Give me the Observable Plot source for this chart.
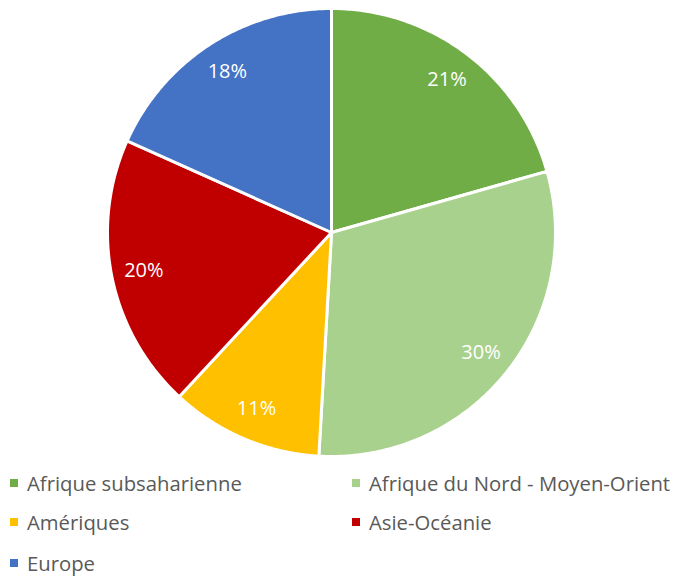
<!DOCTYPE html>
<html>
<head>
<meta charset="utf-8">
<script src="https://cdn.jsdelivr.net/npm/d3@7"></script>
<script src="https://cdn.jsdelivr.net/npm/@observablehq/plot@0.6"></script>
<style>
  body { margin: 0; background: #fff; font-family: "Open Sans", "Noto Sans", sans-serif; }
  #wrap { position: relative; width: 684px; height: 579px; }
  #legend { position: absolute; left: 0; top: 465px; width: 684px; }
  .item { position: absolute; display: flex; align-items: center; font-size: 20.3px; color: #595959; white-space: nowrap; }
  .sw { width: 8px; height: 8px; margin-right: 9px; }
</style>
</head>
<body>
<div id="wrap"><div id="chart"></div><div id="legend"></div></div>
<script>
const categories = ["Afrique subsaharienne", "Afrique du Nord - Moyen-Orient", "Amériques", "Asie-Océanie", "Europe"];
const values = [20.6, 30.3, 11.0, 19.8, 18.3];
const labelsText = ["21%", "30%", "11%", "20%", "18%"];
const colors = ["#70AD47", "#A9D18E", "#FFC000", "#C00000", "#4472C4"];

const data = categories.map((c, i) => ({category: c, value: values[i], label: labelsText[i]}));
const pie = d3.pie().value(d => d.value).sort(null)(data);

const poly = [];
pie.forEach(p => {
  const n = 120;
  poly.push({category: p.data.category, x: 0, y: 0});
  for (let k = 0; k <= n; k++) {
    const a = p.startAngle + (p.endAngle - p.startAngle) * k / n;
    poly.push({category: p.data.category, x: Math.sin(a), y: Math.cos(a)});
  }
  poly.push({category: p.data.category, x: 0, y: 0});
});
const labels = pie.map(p => {
  const a = (p.startAngle + p.endAngle) / 2;
  return {category: p.data.category, x: 0.855 * Math.sin(a), y: 0.855 * Math.cos(a), text: p.data.label};
});

const chart = Plot.plot({
  width: 684, height: 465,
  marginLeft: 107, marginRight: 129, marginTop: 8, marginBottom: 9,
  x: {domain: [-1, 1], axis: null},
  y: {domain: [-1, 1], axis: null},
  color: {domain: categories, range: colors},
  style: {fontFamily: "'Open Sans', 'Noto Sans', sans-serif"},
  marks: [
    Plot.line(poly, {x: "x", y: "y", z: "category", fill: "category", stroke: "white", strokeWidth: 3, strokeLinejoin: "round", curve: "linear"}),
    Plot.text(labels, {x: "x", y: "y", text: "text", fill: "white", fontSize: 20})
  ]
});
document.getElementById("chart").appendChild(chart);

const legend = document.getElementById("legend");
const pos = [[10, 18], [352, 18], [10, 57], [352, 57], [10, 98]];
categories.forEach((c, i) => {
  const d = document.createElement("div");
  d.className = "item";
  d.style.left = pos[i][0] + "px";
  d.style.top = (pos[i][1] - 14) + "px";
  d.style.height = "28px";
  d.innerHTML = `<span class="sw" style="background:${colors[i]}"></span><span>${c}</span>`;
  legend.appendChild(d);
});
</script>
</body>
</html>
